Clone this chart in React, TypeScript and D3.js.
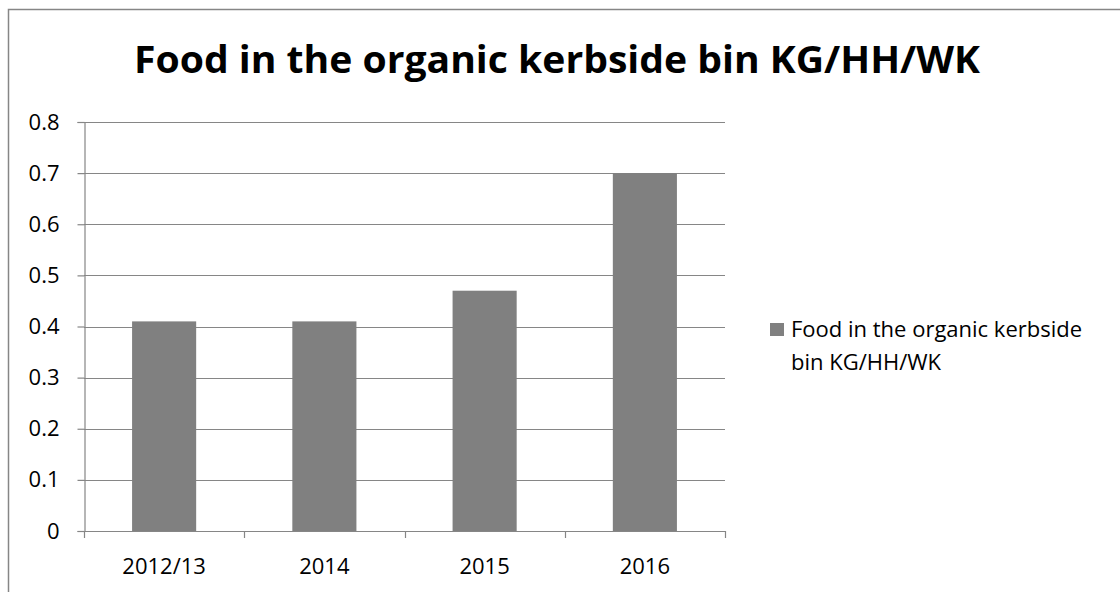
import React, { useEffect, useRef } from 'react';
import * as d3 from 'd3';

// values
const categories = ['2012/13', '2014', '2015', '2016'];
const values = [0.41, 0.41, 0.47, 0.7];
const yTicks = [0, 0.1, 0.2, 0.3, 0.4, 0.5, 0.6, 0.7, 0.8];
const seriesName = 'Food in the organic kerbside bin KG/HH/WK';
const legendLines = ['Food in the organic kerbside', 'bin KG/HH/WK'];
const title = 'Food in the organic kerbside bin KG/HH/WK';

const FONT = '"Open Sans", "Liberation Sans", sans-serif';
const BAR = '#808080';
const LINE = '#868686';

const App = () => {
  const ref = useRef<SVGSVGElement>(null);

  useEffect(() => {
    const svg = d3.select(ref.current);
    svg.selectAll('*').remove();

    const width = 1120;
    const height = 592;
    const plot = { left: 84, right: 725, top: 122, bottom: 531 };

    svg.append('rect').attr('width', width).attr('height', height).attr('fill', '#fff');

    // outer chart border (cropped on right/bottom)
    svg.append('path')
      .attr('d', `M8.5,${height + 2} V9.5 H${width + 2}`)
      .attr('fill', 'none')
      .attr('stroke', LINE)
      .attr('stroke-width', 1.5);

    svg.append('text')
      .attr('x', 557)
      .attr('y', 73)
      .attr('text-anchor', 'middle')
      .attr('textLength', 846)
      .attr('lengthAdjust', 'spacingAndGlyphs')
      .style('font-family', FONT)
      .style('font-size', '38px')
      .style('font-weight', 700)
      .attr('fill', '#000')
      .text(title);

    const x = d3.scaleBand().domain(categories).range([plot.left, plot.right]).paddingInner(0.6).paddingOuter(0.3);
    const y = d3.scaleLinear().domain([0, 0.8]).range([plot.bottom, plot.top]);

    // gridlines
    svg.append('g').selectAll('line').data(yTicks.filter((t) => t > 0)).enter().append('line')
      .attr('x1', plot.left).attr('x2', plot.right)
      .attr('y1', (d) => Math.round(y(d)) + 0.5).attr('y2', (d) => Math.round(y(d)) + 0.5)
      .attr('stroke', LINE).attr('stroke-width', 1.2);

    // bars
    svg.append('g').selectAll('rect').data(values).enter().append('rect')
      .attr('x', (d, i) => x(categories[i]) as number)
      .attr('y', (d) => y(d))
      .attr('width', x.bandwidth())
      .attr('height', (d) => plot.bottom - y(d))
      .attr('fill', BAR);

    // y axis
    const yAxis = svg.append('g')
      .attr('transform', `translate(${plot.left + 0.5},0)`)
      .call(d3.axisLeft(y).tickValues(yTicks).tickSize(7).tickPadding(18).tickFormat((d) => String(+d)));
    yAxis.select('.domain').attr('stroke', LINE).attr('stroke-width', 1.2);
    yAxis.selectAll('.tick line').attr('stroke', LINE).attr('stroke-width', 1.2);
    yAxis.selectAll('.tick text')
      .style('font-family', FONT).style('font-size', '22px').attr('fill', '#000');

    // x axis with ticks on band boundaries
    const step = x.step();
    const bounds = d3.range(categories.length + 1).map((i) => plot.left + i * step);
    const xg = svg.append('g');
    xg.append('line')
      .attr('x1', plot.left).attr('x2', plot.right)
      .attr('y1', plot.bottom + 0.5).attr('y2', plot.bottom + 0.5)
      .attr('stroke', LINE).attr('stroke-width', 1.2);
    xg.selectAll('line.tk').data(bounds).enter().append('line')
      .attr('class', 'tk')
      .attr('x1', (d) => Math.round(d) + 0.5).attr('x2', (d) => Math.round(d) + 0.5)
      .attr('y1', plot.bottom).attr('y2', plot.bottom + 7)
      .attr('stroke', LINE).attr('stroke-width', 1.2);
    xg.selectAll('text').data(categories).enter().append('text')
      .attr('x', (d) => (x(d) as number) + x.bandwidth() / 2)
      .attr('y', 574)
      .attr('text-anchor', 'middle')
      .style('font-family', FONT).style('font-size', '22px').attr('fill', '#000')
      .text((d) => d);

    // legend
    const lg = svg.append('g').attr('aria-label', seriesName);
    lg.append('rect').attr('x', 770).attr('y', 323).attr('width', 14).attr('height', 13).attr('fill', BAR);
    lg.selectAll('text').data(legendLines).enter().append('text')
      .attr('x', 791)
      .attr('y', (d, i) => 337 + i * 33)
      .style('font-family', FONT).style('font-size', '22px').attr('fill', '#000')
      .text((d) => d);
  }, []);

  return (
    <svg ref={ref} width={1120} height={592} style={{ position: 'absolute', left: 0, top: 0, display: 'block' }} />
  );
};

export default App;
